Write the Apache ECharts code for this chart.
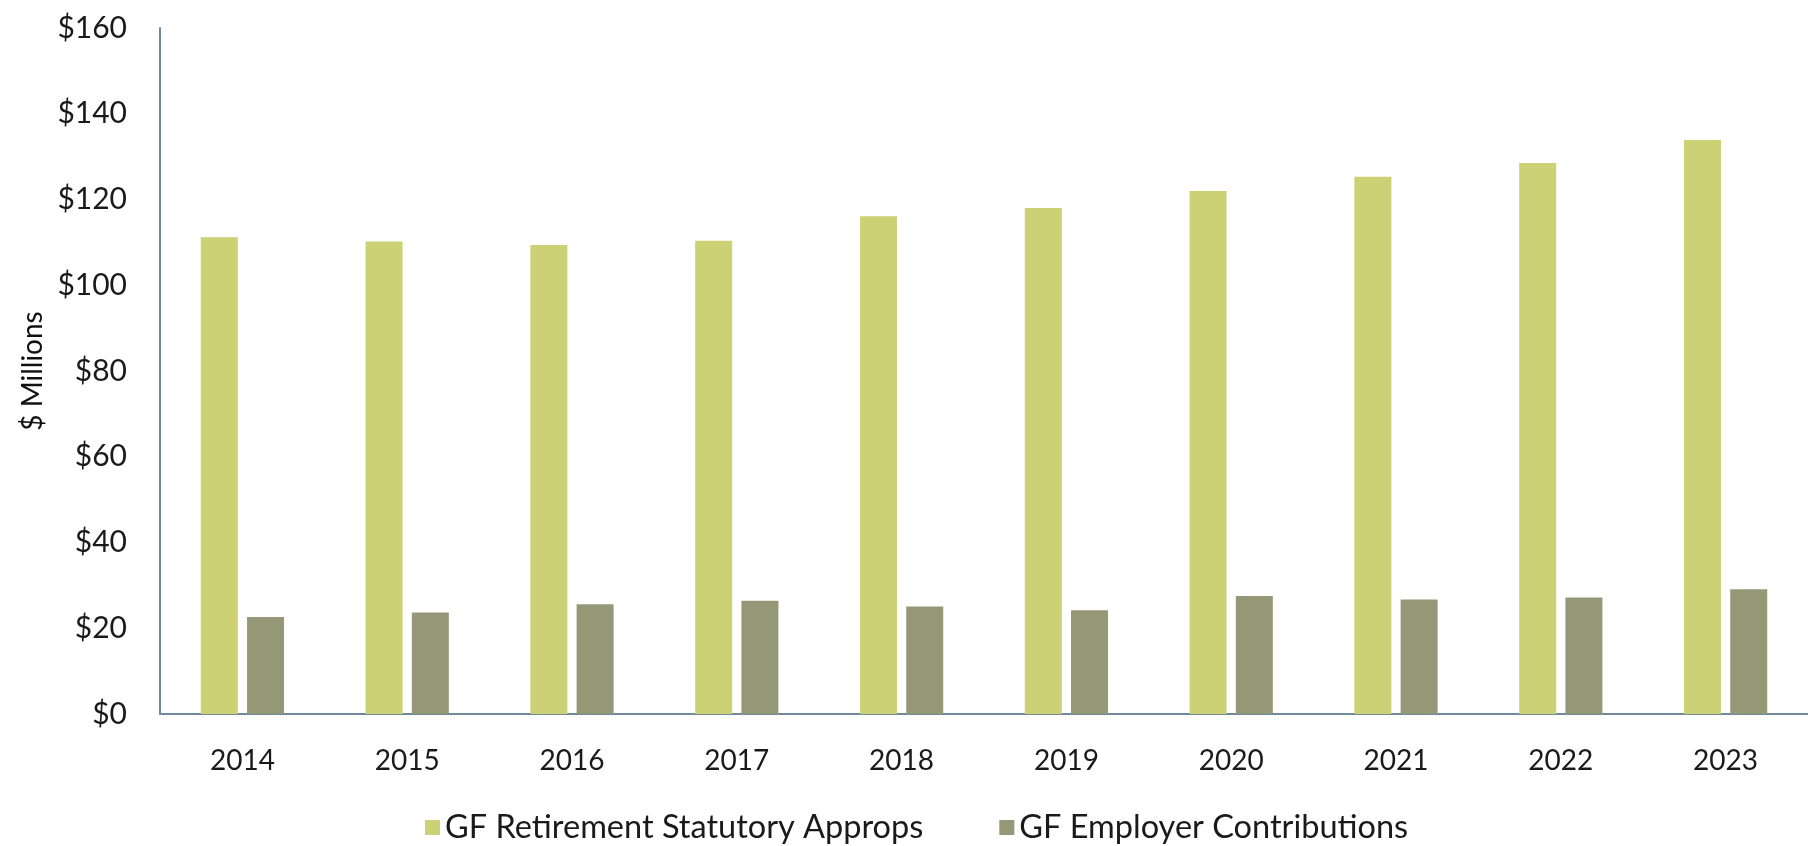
<!DOCTYPE html>
<html>
<head>
<meta charset="utf-8">
<script src="https://cdn.jsdelivr.net/npm/echarts@6/dist/echarts.min.js"></script>
<style>html,body{margin:0;padding:0;background:#fff;}#c{width:1808px;height:846px;}</style>
</head>
<body>
<div id="c"></div>
<script>
const categories = ['2014','2015','2016','2017','2018','2019','2020','2021','2022','2023'];
const statutoryApprops = [111.2, 110.2, 109.4, 110.4, 116.1, 118.0, 122.0, 125.3, 128.5, 133.9];
const employerContrib = [22.6, 23.7, 25.6, 26.4, 25.1, 24.2, 27.5, 26.7, 27.2, 29.1];
const seriesNames = ['GF Retirement Statutory Approps', 'GF Employer Contributions'];
const yTicks = {min: 0, max: 160, interval: 20};

const font = 'Lato';
const chart = echarts.init(document.getElementById('c'));
chart.setOption({
  backgroundColor: '#ffffff',
  animation: false,
  grid: {left: 160, right: 0, top: 28, bottom: 132, containLabel: false},
  legend: {
    data: seriesNames,
    top: 806,
    left: 420,
    itemWidth: 15, itemHeight: 15,
    itemGap: 76,
    icon: 'rect',
    textStyle: {fontFamily: font, fontSize: 32.5, color: '#1a1a1a'}
  },
  xAxis: {
    type: 'category',
    data: categories,
    axisLine: {lineStyle: {color: '#6f8b9b', width: 2}},
    axisTick: {show: false},
    axisLabel: {fontFamily: font, fontSize: 28, color: '#1a1a1a', margin: 33}
  },
  yAxis: {
    type: 'value',
    min: yTicks.min, max: yTicks.max, interval: yTicks.interval,
    name: '$ Millions',
    nameLocation: 'middle',
    nameGap: 109,
    nameTextStyle: {fontFamily: font, fontSize: 28, color: '#111'},
    axisLine: {show: true, lineStyle: {color: '#6f8b9b', width: 2}},
    axisTick: {show: false},
    splitLine: {show: false},
    axisLabel: {fontFamily: font, fontSize: 30, color: '#1a1a1a', margin: 33, formatter: v => '$' + v}
  },
  series: [
    {name: seriesNames[0], type: 'bar', data: statutoryApprops, barWidth: 37, barGap: '25%',
     itemStyle: {color: '#cbd174'}},
    {name: seriesNames[1], type: 'bar', data: employerContrib, barWidth: 37, barGap: '25%',
     itemStyle: {color: '#959877'}}
  ]
});
</script>
</body>
</html>
